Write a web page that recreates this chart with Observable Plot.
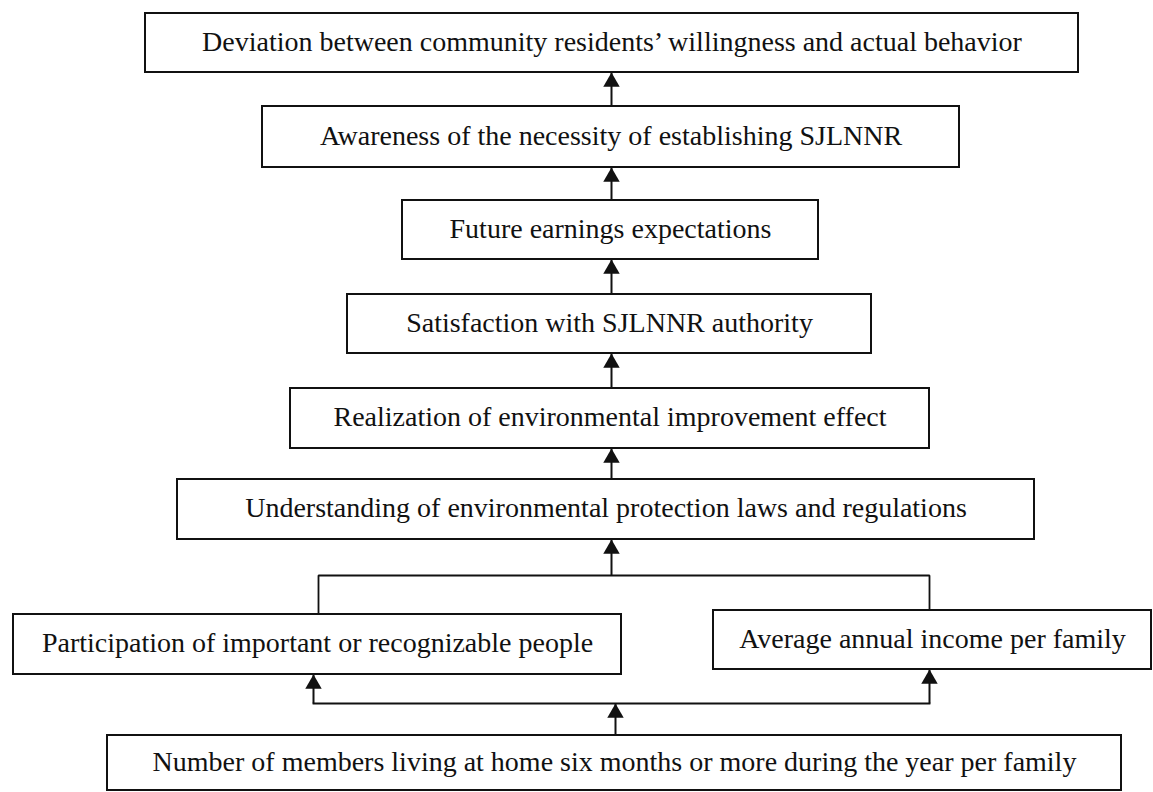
<!DOCTYPE html>
<html>
<head>
<meta charset="utf-8">
<script src="https://cdn.jsdelivr.net/npm/d3@7"></script>
<script src="https://cdn.jsdelivr.net/npm/@observablehq/plot@0.6"></script>
<style>
  html, body { margin: 0; padding: 0; background: #fff; }
  #chart svg { display: block; }
</style>
</head>
<body>
<div id="chart"></div>
<script>
// Node labels (top to bottom)
const labels = [
  "Deviation between community residents\u2019 willingness and actual behavior",
  "Awareness of the necessity of establishing SJLNNR",
  "Future earnings expectations",
  "Satisfaction with SJLNNR authority",
  "Realization of environmental improvement effect",
  "Understanding of environmental protection laws and regulations",
  "Participation of important or recognizable people",
  "Average annual income per family",
  "Number of members living at home six months or more during the year per family"
];
// Node extents in diagram units
const boxLeft   = [145, 262, 402, 347, 290, 177,  13, 713,  107];
const boxRight  = [1078, 959, 818, 871, 929, 1034, 621, 1151, 1121];
const boxTop    = [13, 106, 200, 294, 388, 479, 614, 610, 735];
const boxBottom = [72, 167, 259, 353, 448, 539, 674, 669, 790];

// Arrows: x, start y, tip y
const arrowX    = [611, 611, 611, 611, 611, 611, 615, 313, 929];
const arrowFrom = [106, 200, 294, 388, 479, 575, 735, 703, 703];
const arrowTo   = [72, 167, 259, 353, 448, 539, 703, 674, 669];

// Plain connector polylines
const connectorA = [[318, 614], [318, 575], [929, 575], [929, 610]];
const connectorB = [[313, 703], [929, 703]];

const boxes = labels.map((label, i) => ({
  label, x1: boxLeft[i], x2: boxRight[i], y1: boxTop[i], y2: boxBottom[i]
}));
const arrows = arrowX.map((x, i) => ({x, from: arrowFrom[i], to: arrowTo[i]}));
const connectors = [
  ...connectorA.map(([x, y]) => ({x, y, g: "A"})),
  ...connectorB.map(([x, y]) => ({x, y, g: "B"}))
];

const chart = Plot.plot({
  width: 1153,
  height: 792,
  margin: 0,
  style: {background: "#fff"},
  x: {domain: [0, 1153], range: [0, 1153], axis: null},
  y: {domain: [0, 792], range: [0, 792], axis: null},
  marks: [
    Plot.line(connectors, {x: "x", y: "y", z: "g", stroke: "#111", strokeWidth: 1.8, strokeLinejoin: "miter", strokeLinecap: "square"}),
    Plot.link(arrows, {x1: "x", y1: "from", x2: "x", y2: "to", stroke: "#111", strokeWidth: 2}),
    Plot.dot(arrows, {x: "x", y: "to", dy: 9.5, symbol: "triangle", r: 6.1, fill: "#111", stroke: "none"}),
    Plot.rect(boxes, {x1: "x1", x2: "x2", y1: "y1", y2: "y2", fill: "#fff", stroke: "#111", strokeWidth: 2}),
    Plot.text(boxes, {
      x: d => (d.x1 + d.x2) / 2,
      y: d => (d.y1 + d.y2) / 2,
      text: "label",
      fontSize: 28,
      fontFamily: "'Liberation Serif', 'Times New Roman', serif",
      fill: "#111",
      dy: -1
    })
  ]
});
document.getElementById("chart").appendChild(chart);
</script>
</body>
</html>
